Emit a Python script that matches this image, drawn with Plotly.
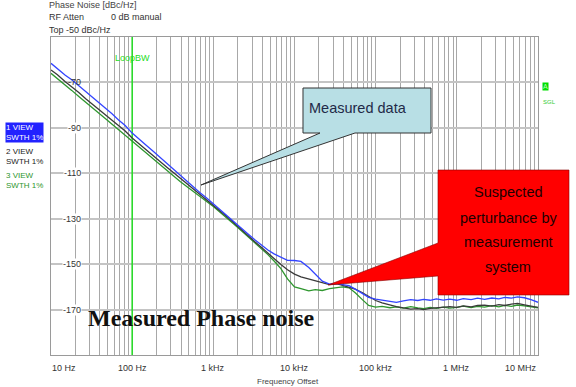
import math
import plotly.graph_objects as go

# ---------------- data ----------------
freq_hz = [10, 12, 15, 18, 22, 27, 33, 39, 47, 56, 68, 82,
           100, 120, 150, 180, 220, 270, 330, 390, 470, 560, 680, 820,
           1e3, 1.2e3, 1.5e3, 1.8e3, 2.2e3, 2.7e3, 3.3e3, 3.9e3, 4.7e3, 5.6e3, 6.8e3, 8.2e3,
           1e4, 1.2e4, 1.5e4, 1.8e4, 2.2e4, 2.7e4, 3.3e4, 3.9e4, 4.7e4, 5.6e4, 6.8e4, 8.2e4,
           1e5, 1.2e5, 1.5e5, 1.8e5, 2.2e5, 2.7e5, 3.3e5, 3.9e5, 4.7e5, 5.6e5, 6.8e5, 8.2e5,
           1e6, 1.2e6, 1.5e6, 1.8e6, 2.2e6, 2.7e6, 3.3e6, 3.9e6, 4.7e6, 5.6e6, 6.8e6, 8.2e6,
           1e7]

trace1_view = [-61.6, -64.0, -66.8, -68.8, -71.4, -74.2, -76.9, -79.0, -81.6, -83.7, -86.5, -89.0,
               -92.3, -94.6, -97.8, -100.2, -103.0, -105.5, -108.6, -110.8, -113.5, -115.8, -118.5, -120.8,
               -123.4, -126.0, -128.8, -131.4, -134.0, -136.8, -139.5, -141.6, -143.8, -145.5, -147.0, -148.3,
               -148.4, -148.8, -151.5, -154.5, -157.5, -158.8, -158.5, -159.0, -159.5, -161.0, -162.8, -164.6,
               -165.4, -165.9, -166.4, -166.8, -166.2, -165.6, -166.0, -165.5, -165.9, -165.3, -165.8, -165.4,
               -165.9, -165.2, -165.6, -165.0, -165.5, -164.9, -165.3, -164.6, -165.0, -164.4, -164.8, -165.6,
               -166.8]

trace2_view = [-64.5, -66.6, -69.7, -71.8, -74.4, -77.3, -79.8, -82.0, -84.4, -86.5, -89.1, -91.4,
               -94.5, -96.8, -99.8, -102.2, -104.8, -107.4, -110.0, -112.1, -114.5, -116.8, -119.3, -121.6,
               -124.0, -126.6, -129.4, -131.9, -134.8, -137.6, -140.4, -142.6, -145.3, -147.8, -150.2, -152.5,
               -154.4, -155.6, -156.6, -157.5, -158.3, -159.0, -158.6, -159.4, -160.0, -161.0, -162.5, -164.2,
               -166.0, -167.0, -168.0, -168.7, -169.3, -169.8, -169.6, -170.0, -169.5, -169.2, -168.9, -168.7,
               -169.0, -168.4, -168.8, -168.2, -168.0, -168.5, -167.8, -168.2, -167.6, -167.3, -167.9, -168.5,
               -169.0]

trace3_view = [-66.0, -68.2, -71.3, -73.5, -76.2, -79.0, -81.5, -83.6, -86.0, -88.3, -90.8, -93.2,
               -96.0, -98.3, -101.2, -103.6, -106.3, -108.8, -111.5, -113.6, -115.8, -117.8, -120.0, -122.2,
               -124.6, -127.0, -129.8, -132.4, -135.2, -138.0, -140.8, -143.0, -145.8, -148.6, -152.0, -156.5,
               -160.0, -160.8, -161.8, -161.2, -161.6, -160.8, -160.2, -160.0, -160.4, -162.6, -165.5, -168.2,
               -168.9, -168.6, -169.2, -168.8, -169.4, -168.7, -169.3, -169.6, -169.0, -169.5, -168.9, -169.4,
               -169.0, -168.5, -169.1, -168.6, -168.9, -168.3, -168.8, -168.2, -168.6, -168.0, -168.4, -168.9,
               -169.2]

loop_bw_hz = 100
y_range = [-190, -50]
y_ticks = [-70, -90, -110, -130, -150, -170]
x_tick_vals = [10, 100, 1e3, 1e4, 1e5, 1e6, 1e7]
x_tick_text = ["10 Hz", "100 Hz", "1 kHz", "10 kHz", "100 kHz", "1 MHz", "10 MHz"]

# ---------------- layout helpers ----------------
W, H = 576, 387
L, R, T, B = 51, 538, 37, 355


def px(X, Y):
    return (X - L) / (R - L), (B - Y) / (B - T)


def path(points):
    s = ""
    for i, (X, Y) in enumerate(points):
        x, y = px(X, Y)
        s += ("M" if i == 0 else "L") + f"{x:.5f},{y:.5f} "
    return s + "Z"


SANS = "Liberation Sans, Arial, sans-serif"

fig = go.Figure()

# green LoopBW marker line
fig.add_trace(go.Scatter(x=[loop_bw_hz, loop_bw_hz], y=y_range, mode="lines",
                         line=dict(color="#22dd22", width=1.5), hoverinfo="skip", showlegend=False))

fig.add_trace(go.Scatter(x=freq_hz, y=trace3_view, mode="lines",
                         line=dict(color="#2e962e", width=1.3), showlegend=False))
fig.add_trace(go.Scatter(x=freq_hz, y=trace2_view, mode="lines",
                         line=dict(color="#3a3a3a", width=1.3), showlegend=False))
fig.add_trace(go.Scatter(x=freq_hz, y=trace1_view, mode="lines",
                         line=dict(color="#3344ff", width=1.3), showlegend=False))

grid_x = []
d = 10
while d < 1e7:
    for m in range(1, 10):
        grid_x.append(d * m)
    d *= 10
grid_x.append(1e7)

fig.update_xaxes(type="log", range=[1, 7], tickvals=grid_x, showticklabels=False,
                 showgrid=True, gridcolor="#a8a8a8", gridwidth=1,
                 showline=True, linecolor="#9a9a9a", linewidth=1, mirror=True,
                 ticks="", zeroline=False)
fig.update_yaxes(range=y_range, tickvals=y_ticks, showticklabels=False,
                 showgrid=True, gridcolor="#c4c4c4", gridwidth=2,
                 showline=True, linecolor="#9a9a9a", linewidth=1, mirror=True,
                 ticks="", zeroline=False)

annotations = []


def add_text(X, Y, text, size=9, color="#333333", xanchor="left", yanchor="middle",
             family=SANS, bgcolor=None, **kw):
    x, y = px(X, Y)
    a = dict(x=x, y=y, xref="paper", yref="paper", text=text, showarrow=False,
             xanchor=xanchor, yanchor=yanchor, font=dict(size=size, color=color, family=family),
             borderpad=0)
    if bgcolor:
        a["bgcolor"] = bgcolor
    a.update(kw)
    annotations.append(a)


# y tick labels (inside the frame, with white background)
for v in y_ticks:
    Y = B - (v - y_range[0]) / (y_range[1] - y_range[0]) * (B - T)
    add_text(82, Y, str(v), size=9, color="#333333", xanchor="right",
             bgcolor=None if v == -70 else "white")

# x tick labels
for i, (v, t) in enumerate(zip(x_tick_vals, x_tick_text)):
    X = L + (math.log10(v) - 1) / 6 * (R - L)
    xa = "left" if i == 0 else ("right" if i == len(x_tick_vals) - 1 else "center")
    add_text(X, 368, t, size=9, color="#333333", xanchor=xa)

add_text(288, 381, "Frequency Offset", size=8, color="#444444", xanchor="center")

# header texts
add_text(48, 5, "Phase Noise [dBc/Hz]", size=9, color="#444444")
add_text(48, 17, "RF Atten", size=9, color="#333333")
add_text(110, 17, "0 dB manual", size=9, color="#333333")
add_text(48, 30, "Top -50 dBc/Hz", size=9, color="#333333")

# LoopBW label
add_text(132, 58, "LoopBW", size=9, color="#22dd22", xanchor="center")

# trace labels at left
add_text(5, 122, "1 VIEW<br>SWTH 1%", size=8, color="white", yanchor="top", bgcolor="#2222ff",
         align="left")
add_text(5, 146, "2 VIEW<br>SWTH 1%", size=8, color="#222222", yanchor="top", align="left")
add_text(5, 170, "3 VIEW<br>SWTH 1%", size=8, color="#2e962e", yanchor="top", align="left")

# right side indicators
add_text(542, 87, "A", size=7, color="#bbffbb", bgcolor="#00dd00")
add_text(542, 102, "SGL", size=6, color="#33cc33")

# callouts
shapes = [
    dict(type="path", xref="paper", yref="paper", layer="above",
         path=path([(303, 88), (431, 88), (431, 133), (355, 133), (201, 185), (320, 133), (303, 133)]),
         fillcolor="#b8dfe5", line=dict(color="#333333", width=1)),
    dict(type="path", xref="paper", yref="paper", layer="above",
         path=path([(438, 170), (569, 170), (569, 295), (438, 295), (438, 276), (328, 285), (438, 243)]),
         fillcolor="#ff0000", line=dict(color="#880000", width=0.6)),
]

add_text(358, 108, "Measured data", size=14.5, color="#1f2a48", xanchor="center")
for txt, Y in [("Suspected", 192), ("perturbance by", 218), ("measurement", 242), ("system", 267)]:
    add_text(508, Y, txt, size=14.5, color="#200000", xanchor="center")

add_text(87, 318, "<b>Measured Phase noise</b>", size=24, color="#111111",
         family="Liberation Serif, Times New Roman, serif")

fig.update_layout(width=W, height=H, margin=dict(l=L, r=W - R, t=T, b=H - B, pad=0),
                  paper_bgcolor="white", plot_bgcolor="white",
                  annotations=annotations, shapes=shapes, showlegend=False)

fig.write_html("out.html")
